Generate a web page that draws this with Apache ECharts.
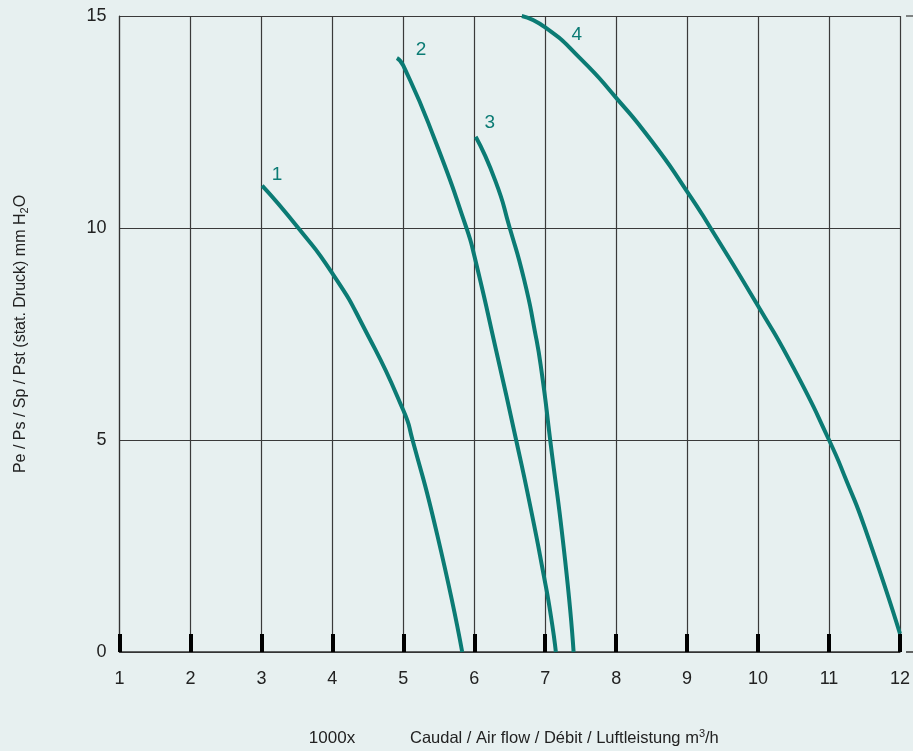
<!DOCTYPE html>
<html>
<head>
<meta charset="utf-8">
<script src="https://cdn.jsdelivr.net/npm/echarts@6/dist/echarts.min.js"></script>
<style>
html,body{margin:0;padding:0;background:#e7f0f0;}
#chart{width:913px;height:751px;}
</style>
</head>
<body>
<div id="chart"></div>
<script>
// x values in 1000 m3/h, y values in mm H2O
var curve1 = [[3.01,11.0],[3.52,10.0],[4.0,8.93],[4.46,7.6],[5.0,5.7],[5.13,5.0],[5.48,2.75],[5.83,0]];
var curve2 = [[4.91,14.01],[5.0,13.83],[5.44,12.1],[5.89,10.0],[6.0,9.35],[6.31,7.1],[6.59,5.0],[6.8,3.35],[6.98,1.8],[7.08,0.85],[7.15,0]];
var curve3 = [[6.02,12.15],[6.3,11.1],[6.5,10.0],[6.7,8.8],[6.85,7.6],[6.95,6.6],[7.07,5.0],[7.28,2.17],[7.4,0]];
var curve4 = [[6.67,15.0],[7.0,14.73],[7.5,13.99],[8.0,13.07],[8.5,12.05],[9.0,10.86],[9.33,10.0],[10.0,8.16],[10.5,6.7],[11.0,5.0],[11.25,4.02],[11.5,2.95],[12.0,0.43]];
var curveNames = ['1','2','3','4'];
var labelPointIndex = [0,0,0,2];
var xTicks = [1,2,3,4,5,6,7,8,9,10,11,12];
var yTicks = [0,5,10,15];

var TEAL = '#0b7b74';
var labelOffsets = [[15,-11],[24,-8],[14,-14],[-4,-24]];
var curves = [curve1,curve2,curve3,curve4];
var FONT = 'Liberation Sans Narrow, Liberation Sans';

var series = curves.map(function(c, i){
  return {
    type:'line',
    name: curveNames[i],
    smooth: 0.6,
    symbol: 'circle',
    symbolSize: 1,
    showSymbol: true,
    itemStyle: {color: 'rgba(0,0,0,0)'},
    lineStyle: {color: TEAL, width: 4},
    label: {show: false},
    emphasis: {disabled: true},
    data: c.map(function(p, j){
      if (j === labelPointIndex[i]) {
        return {value: p, label: {show: true, formatter: curveNames[i], position: 'inside',
          offset: labelOffsets[i], color: TEAL, fontSize: 19, fontFamily: 'Liberation Sans'}};
      }
      return p;
    }),
    z: 5
  };
});

var chart = echarts.init(document.getElementById('chart'));
chart.setOption({
  backgroundColor: '#e7f0f0',
  animation: false,
  grid: {left: 119.5, right: 7, top: 16, bottom: 99, containLabel: false},
  xAxis: {
    type: 'value', min: xTicks[0], max: xTicks[xTicks.length-1], interval: 1,
    axisLine: {show: true, lineStyle: {color: '#333', width: 1.5}},
    axisTick: {show: true, inside: true, length: 18, lineStyle: {color: '#000', width: 4}},
    axisLabel: {color: '#222', fontSize: 18, margin: 18, fontFamily: FONT},
    splitLine: {show: true, lineStyle: {color: '#3a3a3a', width: 1.2}}
  },
  yAxis: {
    type: 'value', min: yTicks[0], max: yTicks[yTicks.length-1], interval: 5,
    axisLine: {show: true, lineStyle: {color: '#333', width: 1.2}},
    axisTick: {show: false},
    axisLabel: {color: '#222', fontSize: 18, margin: 13, fontFamily: FONT},
    splitLine: {show: true, lineStyle: {color: '#3a3a3a', width: 1.2}},
    name: 'Pe / Ps / Sp / Pst (stat. Druck) mm H{sub|2}O',
    nameLocation: 'middle',
    nameGap: 89,
    nameRotate: 90,
    nameTextStyle: {color: '#222', fontSize: 16, fontFamily: FONT,
      rich: {sub: {fontSize: 11, padding: [8,0,0,0], color: '#222', fontFamily: FONT}}}
  },
  graphic: [
    {type:'line', shape:{x1:906, y1:16, x2:913, y2:16}, style:{stroke:'#3a3a3a', lineWidth:1.2}},
    {type:'line', shape:{x1:906, y1:652, x2:913, y2:652}, style:{stroke:'#333', lineWidth:1.5}},
    {type:'text', x: 332, y: 738, style:{text:'1000x', fill:'#222', fontSize:17,
      fontFamily: FONT, align:'center', verticalAlign:'middle'}},
    {type:'text', x: 410, y: 738, style:{text:'Caudal / Air flow / Débit / Luftleistung m{sup|3}/h', fill:'#222', fontSize:16.5,
      fontFamily: FONT, align:'left', verticalAlign:'middle',
      rich:{sup:{fontSize:11, padding:[0,0,9,0], fill:'#222', fontFamily: FONT}}}}
  ],
  series: series
});
</script>
</body>
</html>
